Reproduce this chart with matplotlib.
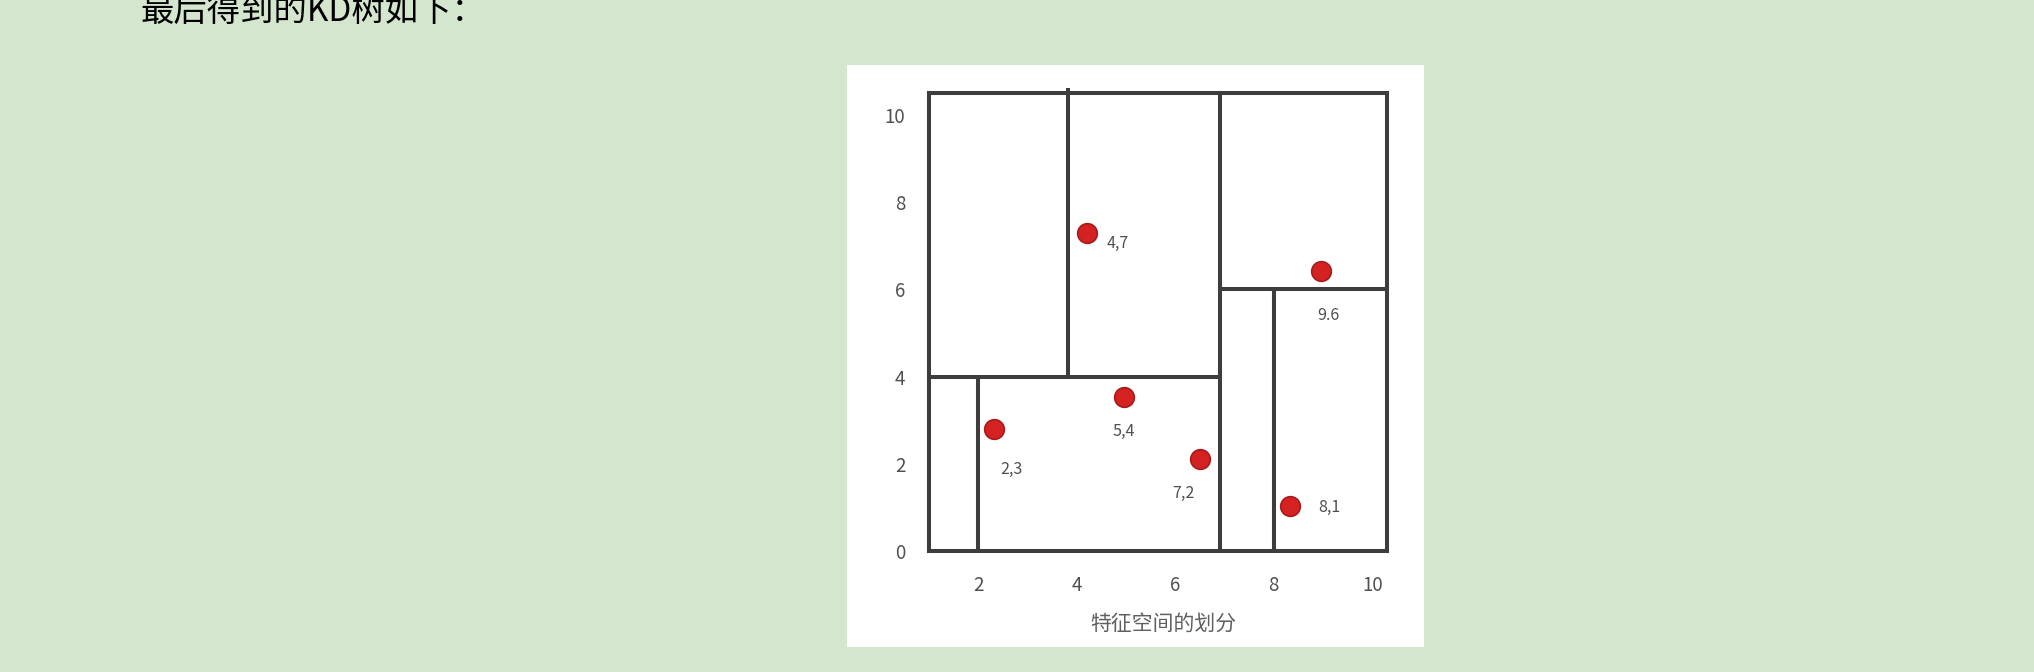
import matplotlib.pyplot as plt
from matplotlib.patches import Rectangle

plt.rcParams['font.family'] = ['Noto Sans CJK SC', 'DejaVu Sans']

# 样本点（按图中位置读取）和它们的标注
pt_x = [2.31, 4.95, 4.21, 8.95, 6.50, 8.34]
pt_y = [2.79, 3.53, 7.28, 6.42, 2.11, 1.03]
pt_labels = ["2,3", "5,4", "4,7", "9.6", "7,2", "8,1"]

# 划分线: (x, y起点, y终点) 和 (y, x起点, x终点)
v_splits = [(6.9, 0, 10.5), (2, 0, 4), (3.83, 4, 10.62), (8, 0, 6)]
h_splits = [(4, 1, 6.9), (6, 6.9, 10.3)]

x_ticks = [2, 4, 6, 8, 10]
y_ticks = [0, 2, 4, 6, 8, 10]

header = "最后得到的KD树如下："
xlabel = "特征空间的划分"

# 标注偏移（points）
label_offsets = [(13, -29), (0, -25), (22, -7), (6, -32), (-12, -25), (28, -1)]

W, H = 2034, 672
fig = plt.figure(figsize=(W / 100, H / 100), dpi=100)
fig.patch.set_facecolor('#d4e6ce')

# 白色图片底板
fig.patches.append(Rectangle((847 / W, 1 - 647 / H), (1424 - 847) / W, (647 - 65) / H,
                             transform=fig.transFigure, facecolor='white',
                             edgecolor='none', zorder=-1))

fig.text(140 / W, 1 - 21 / H, header, fontsize=24, color='black',
         ha='left', va='baseline')

ax = fig.add_axes([929 / W, 1 - 551 / H, (1387 - 929) / W, (551 - 93) / H])
ax.set_zorder(2)
ax.set_facecolor('white')
ax.set_xlim(1, 10.3)
ax.set_ylim(0, 10.5)

lc = '#3d3d3d'
lw = 2.9
for s in ax.spines.values():
    s.set_color(lc)
    s.set_linewidth(lw)

for x, y0, y1 in v_splits:
    ax.plot([x, x], [y0, y1], color=lc, lw=lw, clip_on=False, solid_capstyle='butt')
for y, x0, x1 in h_splits:
    ax.plot([x0, x1], [y, y], color=lc, lw=lw, clip_on=False, solid_capstyle='butt')

ax.scatter(pt_x, pt_y, s=200, color='#d42222', edgecolor='#a81a1a', linewidth=1.2, zorder=5)
for x, y, lab, off in zip(pt_x, pt_y, pt_labels, label_offsets):
    ax.annotate(lab, (x, y), xytext=off, textcoords='offset points',
                ha='center', va='center', fontsize=11.5, color='#505050')

ax.set_xticks(x_ticks)
ax.set_yticks(y_ticks)
ax.tick_params(length=0, labelsize=13.5, labelcolor='#505050')
ax.tick_params(axis='x', pad=17)
ax.tick_params(axis='y', pad=17)

ax.set_xlabel(xlabel, fontsize=15, color='#606060')
ax.xaxis.set_label_coords(0.511, -0.134)

fig.savefig('out.png', dpi=100, facecolor=fig.get_facecolor())
